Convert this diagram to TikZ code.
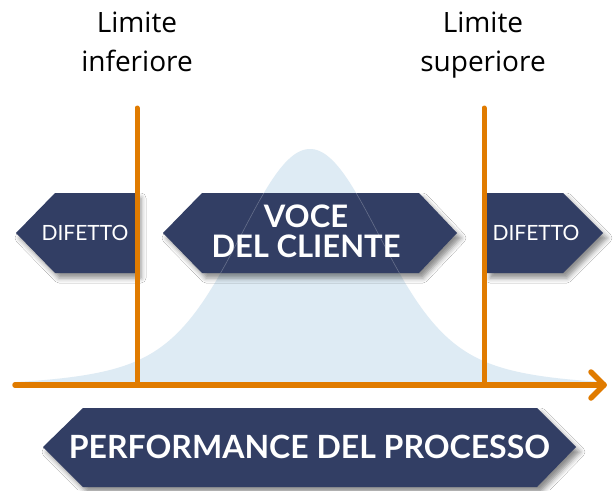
\documentclass[tikz,border=0pt]{standalone}
\usepackage{fontspec}
\setmainfont{Lato}
\newfontfamily\topfont{Open Sans}
\usetikzlibrary{shadows.blur}
\definecolor{navy}{HTML}{323E64}
\definecolor{orng}{HTML}{E07B00}
\definecolor{bellc}{HTML}{DEEBF4}
\begin{document}
\begin{tikzpicture}[x=1pt,y=-1pt,
  boxshape/.style={fill=navy, blur shadow={shadow xshift=4pt, shadow yshift=-5pt, shadow blur radius=5pt, shadow opacity=45}},
  smalltext/.style={text=white, font=\fontsize{21}{25}\selectfont, inner sep=0pt, anchor=base},
  bigtext/.style={text=white, font=\bfseries\fontsize{31}{30}\selectfont, align=center, inner sep=0pt, anchor=base},
  perftext/.style={text=white, font=\bfseries\fontsize{32}{34}\selectfont, inner sep=0pt, anchor=base},
  limtext/.style={font=\topfont\fontsize{28}{39}\selectfont, align=center, text=black, inner sep=0pt, anchor=base},
  orangeline/.style={draw=orng, line width=5pt, line cap=round, line join=round}]
\useasboundingbox (0,0) rectangle (613,490);
\fill[white] (0,0) rectangle (613,490);

% bell curve
\fill[bellc] (15,385) -- plot[domain=15:605, samples=200]
  (\x,{385-236*(0.8*exp(-(((\x-310)/100)^2)/0.8712)+0.2*exp(-(((\x-310)/100)^2)/3.125))}) -- (605,385) -- cycle;

% boxes
\fill[boxshape] (16,233) -- (55,193) -- (137,193) -- (137,273) -- (55,273) -- cycle;
\fill[boxshape] (163,233) -- (202,193) -- (419,193) -- (457,233) -- (419,273) -- (202,273) -- cycle;
\fill[boxshape] (486,193) -- (563,193) -- (603,233) -- (563,273) -- (486,273) -- cycle;
\fill[boxshape] (43,447) -- (83,408) -- (537,408) -- (576,447) -- (537,487) -- (83,487) -- cycle;

% faint bell edge over the middle box
\begin{scope}
\clip (163,233) -- (202,193) -- (419,193) -- (457,233) -- (419,273) -- (202,273) -- cycle;
\draw[white, opacity=0.25, line width=0.6pt] plot[domain=150:470, samples=120]
  (\x,{385-236*(0.8*exp(-(((\x-310)/100)^2)/0.8712)+0.2*exp(-(((\x-310)/100)^2)/3.125))});
\end{scope}

% texts
\node[smalltext] (difl) at (85,240) {DIFETTO};
\node[smalltext] (difr) at (536,240) {DIFETTO};
\node[bigtext] (voce) at (306,257) {VOCE\\DEL CLIENTE};
\node[perftext] (perf) at (309.5,458) {PERFORMANCE DEL PROCESSO};
\node[limtext] (liminf) at (137,71) {Limite\\inferiore};
\node[limtext] (limsup) at (483,71) {Limite\\superiore};

% limit lines and axis
\coordinate (lit) at (137,108);
\coordinate (lib) at (137,385);
\coordinate (lst) at (484,108);
\coordinate (lsb) at (484,385);
\coordinate (ax0) at (15,385);
\coordinate (ax1) at (604,385);
\draw[orangeline] (lit) -- (lib);
\draw[orangeline] (lst) -- (lsb);
\draw[orangeline, line width=5.5pt] (ax0) -- (ax1);
\draw[orangeline, line width=5.5pt] ([shift={(-13,-13)}]ax1) -- (ax1) -- ([shift={(-13,13)}]ax1);
\end{tikzpicture}
\end{document}
